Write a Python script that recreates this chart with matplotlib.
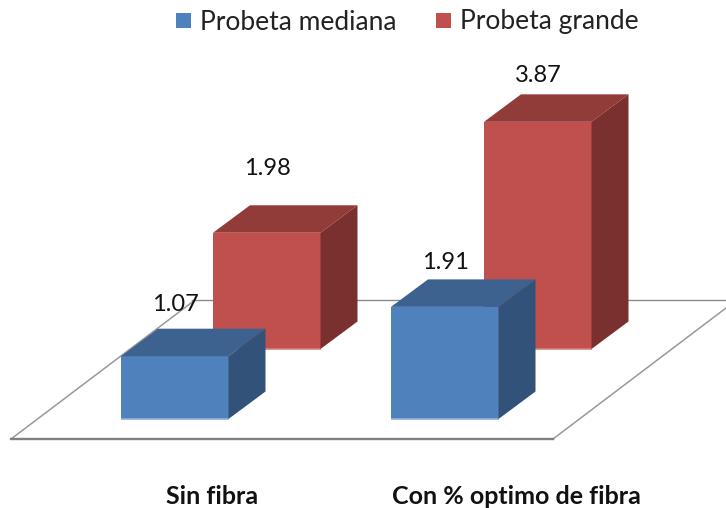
import matplotlib
matplotlib.use('Agg')
import matplotlib.pyplot as plt
from matplotlib.patches import Polygon, Rectangle

categorias = ['Sin fibra', 'Con % optimo de fibra']
series = ['Probeta mediana', 'Probeta grande']
mediana = [1.07, 1.91]
grande = [1.98, 3.87]

plt.rcParams['font.family'] = ['Lato', 'DejaVu Sans']

PX_POR_UNIDAD = 58.7
ANCHO = 107.5
DX, DY = 37, -27.5

fig = plt.figure(figsize=(7.26, 5.08), dpi=100)
ax = fig.add_axes([0, 0, 1, 1])
ax.set_xlim(0, 726)
ax.set_ylim(508, 0)
ax.axis('off')

# piso
ax.plot([11, 195], [439, 300], color='#999999', lw=1.1, zorder=1)
ax.plot([192, 726], [300, 300], color='#8c8c8c', lw=1, zorder=1)
ax.plot([553, 726], [439, 308], color='#999999', lw=1.1, zorder=1)
ax.plot([11, 553], [439, 439], color='#808080', lw=1.7, zorder=1)


def barra(x, base, valor, colores, z):
    frente, arriba, lado, borde = colores
    h = valor * PX_POR_UNIDAD
    top = base - h
    ax.add_patch(Rectangle((x, top), ANCHO, h, fc=frente, ec='none', zorder=z))
    ax.plot([x, x + ANCHO], [base, base], color=borde, lw=1.2, zorder=z, solid_capstyle='butt')
    ax.add_patch(Polygon([(x, top), (x + DX, top + DY), (x + ANCHO + DX, top + DY), (x + ANCHO, top)],
                         fc=arriba, ec='none', zorder=z))
    ax.add_patch(Polygon([(x + ANCHO, top), (x + ANCHO + DX, top + DY),
                          (x + ANCHO + DX, base + DY), (x + ANCHO, base)],
                         fc=lado, ec='none', zorder=z))
    return top


azul = ('#4f81bd', '#3e6290', '#325279', '#8fb0d6')
rojo = ('#c0504d', '#923c3a', '#7a302e', '#d67f7c')
x_med = [121, 391]
x_gra = [213, 484]
sep_med = [52, 44]
sep_gra = [64, 46]

for i in range(2):
    t = barra(x_gra[i], 349, grande[i], rojo, 2)
    ax.text(x_gra[i] + 54, t - sep_gra[i], f'{grande[i]:.2f}', ha='center', va='center',
            fontsize=17, color='#111111', zorder=5)
    t = barra(x_med[i], 419, mediana[i], azul, 3)
    ax.text(x_med[i] + 54, t - sep_med[i], f'{mediana[i]:.2f}', ha='center', va='center',
            fontsize=17, color='#111111', zorder=5)

for cx, c in zip([212, 516], categorias):
    ax.text(cx, 496, c, ha='center', va='center', fontsize=18, fontweight='bold', color='#111111')

# leyenda
for x, c, s in zip([176, 436], [azul[0], rojo[0]], series):
    ax.add_patch(Rectangle((x, 13), 15, 15, fc=c, ec='none'))
    ax.text(x + 24, 22, s, ha='left', va='center', fontsize=19, color='#222222')

fig.savefig('out.png', dpi=100)
